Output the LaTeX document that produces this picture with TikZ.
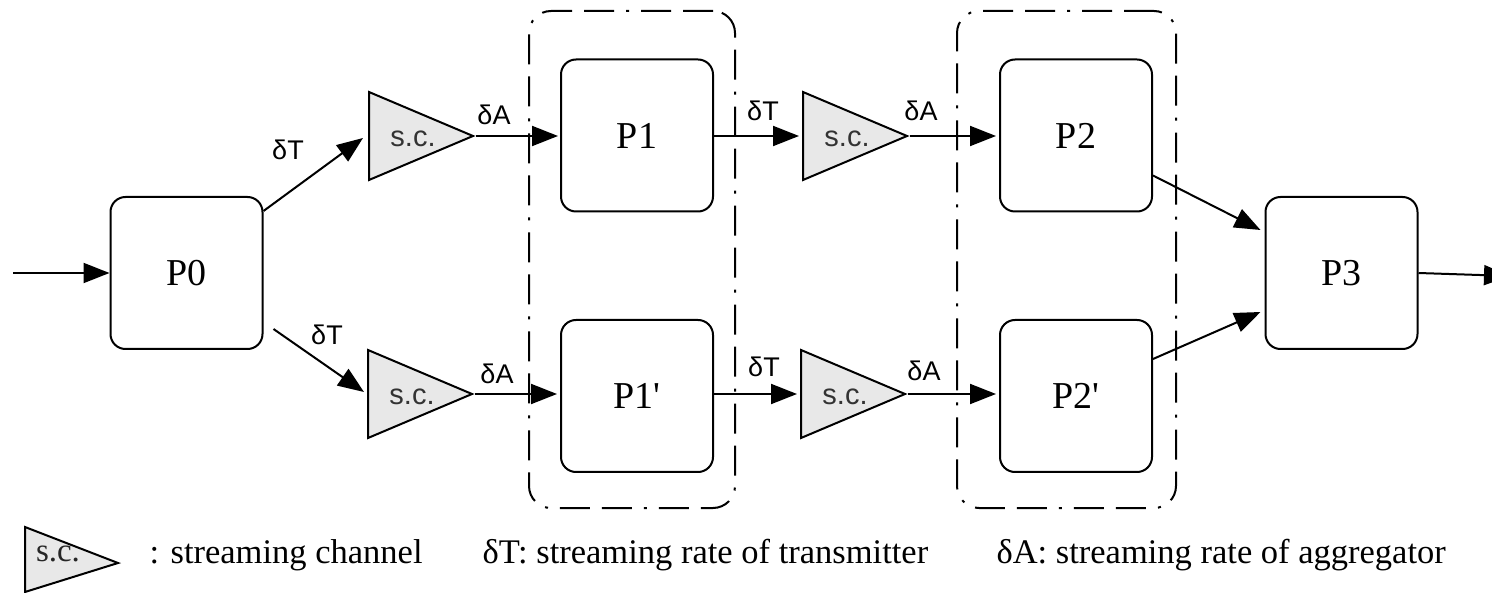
\documentclass[tikz,border=0pt]{standalone}
\usepackage{fontspec}
\setmainfont{Liberation Serif}
\newfontfamily\labelfont{Liberation Sans}
\usetikzlibrary{arrows.meta,shapes.geometric,calc}

\tikzset{
  proc/.style={draw, line width=2pt, rounded corners=15pt, minimum width=152pt,
    minimum height=152pt, inner sep=0pt, font=\rmfamily\fontsize{38}{44}\selectfont},
  chan/.style={draw, line width=2pt, fill=gray!18, isosceles triangle,
    isosceles triangle stretches, minimum width=88pt, minimum height=104pt,
    inner sep=0pt, anchor=lower side},
  chantext/.style={font=\labelfont\fontsize{29}{32}\selectfont, text=black!80},
  rate/.style={font=\labelfont\fontsize{27}{30}\selectfont},
  flow/.style={line width=2pt, -{Triangle[length=26pt,width=20pt]}},
  groupbox/.style={draw, line width=2pt, rounded corners=22pt,
    dash pattern=on 30pt off 12pt on 30pt off 12pt on 3pt off 12pt,
    inner sep=0pt},
  legend/.style={font=\rmfamily\fontsize{34.5}{40}\selectfont, anchor=west},
  legendsc/.style={font=\rmfamily\fontsize{33}{36}\selectfont, text=black!85},
}

\begin{document}
\begin{tikzpicture}[x=1pt, y=-1pt]
\useasboundingbox (0,0) rectangle (1492,593);

% grouping frames
\node[groupbox, minimum width=206pt, minimum height=497pt] (G1) at (632,259.5) {};
\node[groupbox, minimum width=219pt, minimum height=497pt] (G2) at (1066.5,259.5) {};

% processing elements
\node[proc] (P0)  at (186.5,273) {P0};
\node[proc] (P1)  at (637,135.5) {P1};
\node[proc] (P1b) at (637,396)   {P1\textquotesingle};
\node[proc] (P2)  at (1076,135.5) {P2};
\node[proc] (P2b) at (1076,396)   {P2\textquotesingle};
\node[proc] (P3)  at (1341.5,273) {P3};

% streaming channels
\node[chan] (C1) at (368,136) {};
\node[chan] (C2) at (367,394) {};
\node[chan] (C3) at (802,136) {};
\node[chan] (C4) at (800,394) {};
\node[chantext] (T1) at (413,139) {s.c.};
\node[chantext] (T2) at (412,397) {s.c.};
\node[chantext] (T3) at (847,139) {s.c.};
\node[chantext] (T4) at (845,397) {s.c.};

% input and output
\coordinate (in)  at (13,273);
\coordinate (out) at (1510,276);
\draw[flow] (in) -- (P0.west);
\draw[flow] (P3.east) -- (out);

% transmitter side
\draw[flow] ($(P0.north east)+(0,15)$) -- ($(C1.lower side)+(-5,2)$);
\draw[flow] ($(P0.south east)+(10,-21)$) -- ($(C2.lower side)+(-3,-2)$);
\draw[flow] (P1.east |- C3.lower side) -- ($(C3.lower side)+(-3,0)$);
\draw[flow] (P1b.east |- C4.lower side) -- ($(C4.lower side)+(-3,0)$);

% aggregator side
\draw[flow] (C1.apex) -- ($(P1.west |- C1.apex)+(-2,0)$);
\draw[flow] (C2.apex) -- ($(P1b.west |- C2.apex)+(-3,0)$);
\draw[flow] (C3.apex) -- ($(P2.west |- C3.apex)+(-3,0)$);
\draw[flow] (C4.apex) -- ($(P2b.west |- C4.apex)+(-3,0)$);

% merge into P3
\draw[flow] ($(P2.east)+(0,40)$) -- ($(P3.west)+(-4,-43)$);
\draw[flow] ($(P2b.east)+(0,-37)$) -- ($(P3.west)+(-4,39)$);

% rate labels
\node[rate] (r1) at (288,150) {δT};
\node[rate] (r2) at (494,115) {δA};
\node[rate] (r3) at (327,335) {δT};
\node[rate] (r4) at (497,374) {δA};
\node[rate] (r5) at (763,111) {δT};
\node[rate] (r6) at (921,111) {δA};
\node[rate] (r7) at (764,367) {δT};
\node[rate] (r8) at (924,371) {δA};

% legend
\draw[line width=2pt, fill=gray!18] (25,527) -- (118,563) -- (25,592) -- cycle;
\node[legendsc] (lsc) at (58,554) {s.c.};
\node[legend] (l1) at (146,555) {: streaming channel};
\node[legend] (l2) at (479,555) {δT: streaming rate of transmitter};
\node[legend] (l3) at (993,555) {δA: streaming rate of aggregator};
\end{tikzpicture}
\end{document}
